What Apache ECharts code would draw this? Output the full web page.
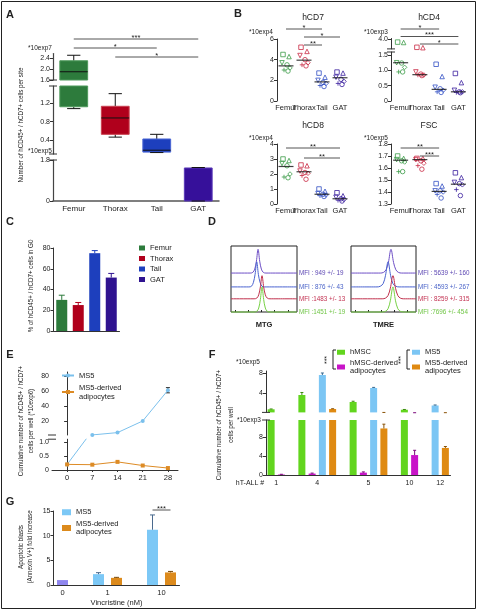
<!DOCTYPE html>
<html><head><meta charset="utf-8">
<script src="https://cdn.jsdelivr.net/npm/echarts@6/dist/echarts.min.js"></script>
<style>html,body{margin:0;padding:0;background:#fff;}#chart{width:477px;height:612px;}</style>
</head><body><div id="chart"></div>
<script>
// ================= DATA =================
// Panel A: box stats in units of 1e5 cells [min, q1, median, q3, max]
const A_categories = ['Femur', 'Thorax', 'Tail', 'GAT'];
const A_Femur = [108, 112, 190, 230, 250];
const A_Thorax = [47, 53, 88, 113, 140];
const A_Tail = [14, 15, 19, 43, 53];
const A_GAT = [0, 0, 0, 1.45, 1.47];
const A_ticksTop = [1.6, 2.0, 2.4];   // *10exp7
const A_ticksMid = [0.4, 0.8, 1.2];   // *10exp7
const A_ticksLow = [0, 1.8];          // *10exp5
const A_sig = [[0, 3, '***'], [0, 2, '*'], [1, 3, '*']];

// Panel B
const B_categories = ['Femur', 'Thorax', 'Tail', 'GAT'];
const hCD7_Femur = [4.5, 4.3, 3.7, 3.5, 3.2, 3.0, 2.9];
const hCD7_Thorax = [5.2, 4.8, 4.4, 4.0, 3.7, 3.5, 3.4];
const hCD7_Tail = [2.7, 2.3, 2.0, 1.8, 1.7, 1.5, 1.4];
const hCD7_GAT = [2.8, 2.7, 2.3, 2.1, 1.9, 1.7, 1.6];
const hCD7_medians = [3.4, 3.95, 1.85, 2.25];
const hCD7_sig = [[0, 2, '*'], [1, 3, '*'], [1, 2, '**']];
const hCD4_Femur = [3.3, 3.2, 1.25, 1.24, 1.1, 0.95, 0.95];
const hCD4_Thorax = [2.0, 1.9, 0.95, 0.88, 0.85, 0.85, 0.83];
const hCD4_Tail = [1.2, 0.8, 0.45, 0.4, 0.35, 0.3, 0.28];
const hCD4_GAT = [0.9, 0.6, 0.35, 0.3, 0.3, 0.28, 0.27];
const hCD4_medians = [1.25, 0.86, 0.38, 0.3];
const hCD4_sig = [[0, 2, '*'], [0, 3, '***'], [1, 3, '*']];
const hCD8_Femur = [3.0, 2.9, 2.7, 2.55, 2.0, 1.8, 1.75];
const hCD8_Thorax = [2.6, 2.55, 2.2, 2.1, 2.05, 1.9, 1.65];
const hCD8_Tail = [1.0, 0.85, 0.7, 0.65, 0.6, 0.55, 0.5];
const hCD8_GAT = [0.75, 0.55, 0.45, 0.35, 0.3, 0.25, 0.2];
const hCD8_medians = [2.5, 2.15, 0.65, 0.35];
const hCD8_sig = [[0, 3, '**'], [1, 3, '**']];
const FSC_Femur = [1.70, 1.68, 1.67, 1.66, 1.65, 1.57, 1.57];
const FSC_Thorax = [1.68, 1.68, 1.67, 1.66, 1.64, 1.62, 1.59];
const FSC_Tail = [1.47, 1.45, 1.41, 1.41, 1.40, 1.38, 1.35];
const FSC_GAT = [1.56, 1.52, 1.48, 1.47, 1.46, 1.42, 1.37];
const FSC_medians = [1.665, 1.67, 1.405, 1.465];
const FSC_sig = [[0, 2, '**'], [1, 2, '***']];

// Panel C
const C_categories = ['Femur', 'Thorax', 'Tail', 'GAT'];
const C_values = [30, 25, 75, 51.5];
const C_sem = [4.5, 2.5, 2.5, 4];
const C_ticks = [0, 20, 40, 60, 80];

// Panel D: histogram curves [x, count] (arbitrary units)
const MTG_purple = [[0,59],[29,59],[33,60],[36,65],[38.5,77],[41,95],[43.5,77],[46,65],[49,60],[53,59],[100,59]];
const MTG_blue = [[0,38],[27,38],[31,39],[34,45],[36.5,57],[39,76],[41.5,57],[44,45],[47,39],[51,38],[100,38]];
const MTG_red = [[0,20],[35,20],[39,21],[42,26],[44.5,38],[47,55],[49.5,38],[52,26],[55,21],[59,20],[100,20]];
const MTG_green = [[0,0],[35,0],[39,1],[42,6],[44.5,19],[47,38],[49.5,19],[52,6],[55,1],[59,0],[100,0]];
const TMRE_purple = [[0,59],[45,59],[50,60],[54,64],[57.5,75],[61.5,95],[65.5,75],[69,64],[73,60],[78,59],[100,59]];
const TMRE_blue = [[0,38],[40,38],[45,39],[49.5,43],[53,55],[57,76],[61,55],[64.5,43],[69,39],[74,38],[100,38]];
const TMRE_red = [[0,20],[48,20],[53,21],[57,25],[60.5,36],[64.5,55],[68.5,36],[72,25],[76,21],[81,20],[100,20]];
const TMRE_green = [[0,0],[48,0],[53,1],[57,5],[60.5,17],[64.5,38],[68.5,17],[72,5],[76,1],[81,0],[100,0]];
const MTG_labels = ['MFI : 949 +/- 19', 'MFI : 876 +/- 43', 'MFI :1483 +/- 13', 'MFI :1451 +/- 19'];
const TMRE_labels = ['MFI : 5639 +/- 160', 'MFI : 4593 +/- 267', 'MFI : 8259 +/- 315', 'MFI :7696 +/- 454'];

// Panel E (*10exp6)
const E_days = [0, 7, 14, 21, 28];
const E_MS5 = [0.2, 1.4, 4.5, 20, 61];
const E_MS5_sd = [0, 0, 0, 0, 3.5];
const E_adipo = [0.2, 0.19, 0.29, 0.16, 0.07];
const E_ticksUp = [20, 40, 60, 80];
const E_ticksLow = [0, 0.5, 1.0];

// Panel F (*10exp3 cells)
const F_patients = ['1', '4', '5', '10', '12'];
const F_hMSC = [74, 360, 220, 65, null];
const F_hMSC_sem = [6, 50, 15, 5, null];
const F_hMSCadipo = [0.1, 0.3, 0.5, 4.2, null];
const F_hMSCadipo_sem = [0.05, 0.1, 0.15, 1.0, null];
const F_MS5 = [null, 760, 500, null, 150];
const F_MS5_sem = [null, 40, 12, null, 10];
const F_MS5adipo = [null, 80, 9.8, null, 5.7];
const F_MS5adipo_sem = [null, 5, 0.9, null, 0.3];
const F_ticksUp = [4, 8];     // *10exp5
const F_ticksLow = [0, 4, 8]; // *10exp3

// Panel G
const G_doses = ['0', '1', '10'];
const G_control = [1.0, null, null];
const G_MS5 = [null, 2.2, 11.2];
const G_MS5_sem = [null, 0.3, 3.0];
const G_adipo = [null, 1.45, 2.55];
const G_adipo_sem = [null, 0.1, 0.2];
const G_ticks = [0, 5, 10, 15];

// ================= BUILD =================
const FONT = "'Liberation Sans', Arial, Helvetica, sans-serif";
const NARROW = "'Liberation Sans Narrow', 'Liberation Sans', Arial, sans-serif";
const INK = '#222';
const AXC = '#333';
const grids = [], xAxes = [], yAxes = [], series = [], graphics = [], legends = [];
const addGrid = g => (grids.push(Object.assign({containLabel: false, outerBoundsMode: 'none'}, g)), grids.length - 1);
const addX = a => (xAxes.push(a), xAxes.length - 1);
const addY = a => (yAxes.push(a), yAxes.length - 1);
const fmt1 = v => (v === 0 ? '0' : v.toFixed(1));
const fmt0 = v => String(v);

function valAxis(gi, min, max, ticks, fmt, extra) {
  return Object.assign({
    type: 'value', gridIndex: gi, min, max,
    axisLine: {show: true, lineStyle: {color: AXC, width: 1}},
    axisTick: {show: true, length: 3, customValues: ticks, lineStyle: {color: AXC, width: 1}},
    axisLabel: {show: true, customValues: ticks, fontSize: 7, margin: 3, color: INK, fontFamily: FONT, formatter: fmt || fmt0},
    splitLine: {show: false}
  }, extra || {});
}
function catAxis(gi, data, extra) {
  return Object.assign({
    type: 'category', gridIndex: gi, data, boundaryGap: true,
    axisLine: {show: true, lineStyle: {color: AXC, width: 1}},
    axisTick: {show: false},
    axisLabel: {show: true, interval: 0, fontSize: 8, margin: 4, color: INK, fontFamily: FONT},
    splitLine: {show: false}
  }, extra || {});
}
const hidVal = (gi, min, max, inverse) => ({type: 'value', gridIndex: gi, min, max, inverse: !!inverse, show: false});
const hidCat = (gi, data) => ({type: 'category', gridIndex: gi, data, boundaryGap: true, show: false});

function text(x, y, str, size, o) {
  o = o || {};
  graphics.push({type: 'text', x, y, rotation: o.rot || 0, scaleX: o.sx || 1, silent: true, z: 10,
    style: {text: str, fill: o.fill || INK, font: (o.weight || 'normal') + ' ' + size + 'px ' + (o.family || FONT),
      align: o.align || 'center', verticalAlign: 'middle'}});
}
const ROT = Math.PI / 2;
const NAR = {rot: ROT, family: NARROW, sx: 0.83};

// axis-break marks drawn at the edges of a segment's coordinate system
function addBreak(xi, yi, edges) {
  series.push({type: 'custom', xAxisIndex: xi, yAxisIndex: yi, silent: true, clip: false, z: 6, data: [[0, 0]],
    renderItem: (params) => {
      const cs = params.coordSys;
      return {type: 'group', children: edges.map(e => {
        const yy = e === 'top' ? cs.y : cs.y + cs.height;
        return {type: 'line', shape: {x1: cs.x - 4, y1: yy, x2: cs.x + 4, y2: yy}, style: {stroke: '#333', lineWidth: 1}};
      })};
    }});
}

function addSig(left, width, nCats, top, spacing, items, size) {
  const gi = addGrid({left, width, top, height: spacing * 2});
  const xi = addX(hidCat(gi, Array.from({length: nCats}, (_, i) => String(i))));
  const yi = addY(hidVal(gi, 0, 2, true));
  series.push({type: 'custom', xAxisIndex: xi, yAxisIndex: yi, silent: true, clip: false, z: 4,
    data: items.map((it, r) => [it[0], it[1], r]),
    renderItem: (params, api) => {
      const lab = items[params.dataIndex][2];
      const a = api.coord([api.value(0), api.value(2)]);
      const b = api.coord([api.value(1), api.value(2)]);
      return {type: 'group', children: [
        {type: 'line', shape: {x1: a[0], y1: a[1], x2: b[0], y2: b[1]}, style: {stroke: '#555', lineWidth: 1}},
        {type: 'text', style: {text: lab, x: (a[0] + b[0]) / 2, y: a[1] + 2.5, fill: INK, fontSize: size || 7.5, fontFamily: FONT, align: 'center', verticalAlign: 'bottom'}}
      ]};
    }});
}

function errSeries(xi, yi, data, color, capW, both) {
  return {type: 'custom', xAxisIndex: xi, yAxisIndex: yi, silent: true, clip: false, z: 3, data,
    renderItem: (params, api) => {
      const cs = params.coordSys;
      const x = api.value(0);
      const p0 = api.coord([x, api.value(1)]);
      const p1 = api.coord([x, api.value(2)]);
      if (!(p0[1] >= cs.y - 0.5 && p0[1] <= cs.y + cs.height + 0.5)) return null;
      const col = Array.isArray(color) ? color[params.dataIndex] : color;
      const st = {stroke: col, lineWidth: 1};
      const ch = [
        {type: 'line', shape: {x1: p0[0], y1: p0[1], x2: p1[0], y2: p1[1]}, style: st},
        {type: 'line', shape: {x1: p1[0] - capW / 2, y1: p1[1], x2: p1[0] + capW / 2, y2: p1[1]}, style: st}
      ];
      if (both) ch.push({type: 'line', shape: {x1: p0[0] - capW / 2, y1: p0[1], x2: p0[0] + capW / 2, y2: p0[1]}, style: st});
      return {type: 'group', children: ch};
    }};
}

function buildSlots(groups, arrays) {
  const slots = [], centers = [];
  groups.forEach((g, gi) => {
    if (gi > 0) slots.push(null);
    const start = slots.length;
    arrays.forEach((arr, si) => { if (arr[gi] != null) slots.push({g: gi, s: si}); });
    centers.push((start + slots.length) / 2);
  });
  return {slots, centers};
}
const labelFor = (centers, names, v) => { const i = centers.findIndex(c => Math.abs(c - v) < 1e-6); return i >= 0 ? names[i] : ''; };

// ---------- Panel A ----------
const A_boxes = [A_Femur, A_Thorax, A_Tail, A_GAT];
const A_colors = ['#2d7b3c', '#b0001c', '#1d3fbd', '#36109a'];
const A_edge = ['#4f9a5c', '#c9404f', '#4a66d4', '#5a3ab8'];
function renderBox(params, api) {
  const cs = params.coordSys, top = cs.y, bot = cs.y + cs.height;
  const ci = api.value(0);
  const y = [1, 2, 3, 4, 5].map(k => api.coord([ci, api.value(k)])[1]);
  const cx = api.coord([ci, api.value(1)])[0];
  const band = api.size([1, 0])[0];
  const bw = band * 0.67, cw = band * 0.32;
  const ch = [];
  const seg = (ya, yb, mk) => { let a = Math.min(ya, yb), b = Math.max(ya, yb); if (b < top - 0.01 || a > bot + 0.01) return; mk(Math.max(a, top), Math.min(b, bot)); };
  const vline = (a, b) => ch.push({type: 'line', shape: {x1: cx, y1: a, x2: cx, y2: b}, style: {stroke: '#111', lineWidth: 1}});
  seg(y[4], y[3], vline);
  seg(y[1], y[0], vline);
  seg(y[3], y[1], (a, b) => ch.push({type: 'rect', shape: {x: cx - bw / 2, y: a, width: bw, height: b - a}, style: {fill: A_colors[ci], stroke: A_edge[ci], lineWidth: 1}}));
  [y[0], y[4]].forEach(yy => { if (yy >= top - 0.01 && yy <= bot + 0.01) ch.push({type: 'line', shape: {x1: cx - cw / 2, y1: yy, x2: cx + cw / 2, y2: yy}, style: {stroke: '#111', lineWidth: 1}}); });
  if (y[2] >= top && y[2] <= bot && y[2] < y[1] - 0.5) ch.push({type: 'line', shape: {x1: cx - bw / 2, y1: y[2], x2: cx + bw / 2, y2: y[2]}, style: {stroke: '#111', lineWidth: 1}});
  return {type: 'group', children: ch};
}
const A_left = 53, A_width = 166;
const A_breaks = [['bottom'], ['top', 'bottom'], ['top']];
[[53.6, 26.4, 1.6, 2.56, A_ticksTop, 0.01], [86, 68, 0.109, 1.564, A_ticksMid, 0.01], [160, 41, 0, 1.8, A_ticksLow, 1]].forEach(([top, h, mn, mx, tk, f], k) => {
  const g = addGrid({left: A_left, width: A_width, top, height: h});
  const xi = addX(k === 2 ? catAxis(g, A_categories, {axisLine: {show: true, lineStyle: {color: '#555', width: 1.5}}}) : hidCat(g, A_categories));
  const yi = addY(valAxis(g, mn, mx, tk, fmt1, {axisLine: {show: true, lineStyle: {color: '#444', width: 1.2}}}));
  series.push({type: 'custom', xAxisIndex: xi, yAxisIndex: yi, silent: true, clip: false, renderItem: renderBox,
    data: A_boxes.map((b, i) => [i].concat(b.map(v => v * f)))});
  addBreak(xi, yi, A_breaks[k]);
});
addSig(A_left, A_width, 4, 39, 9, A_sig, 7.5);
text(10, 15, 'A', 11, {weight: 'bold'});
text(40, 48, '*10exp7', 6.5);
text(40, 151, '*10exp5', 6.5);
text(21, 125, 'Number of hCD45+ / hCD7+ cells per site', 7.5, NAR);

// ---------- Panel B ----------
const B_colors = ['#3c9c48', '#c92a45', '#3350c4', '#3b1f9f'];
const B_SHAPES = ['rect', 'triangle', 'path://M-1,-1L1,-1L0,1Z', 'circle', 'diamond', 'path://M0,-1L0,1M-1,0L1,0', 'circle'];
const B_JITTER = [-3, 3, -4, 1, 4, -2, 2];
function addDots(left, width, segs, groups, medians) {
  segs.forEach((s, k) => {
    const g = addGrid({left, width, top: s.top, height: s.height});
    const isBottom = k === segs.length - 1;
    const xi = addX(isBottom ? catAxis(g, B_categories, {axisLine: {show: false},
      axisLabel: {show: true, interval: 0, fontSize: 7.5, margin: 3, color: INK, fontFamily: FONT}}) : hidCat(g, B_categories));
    const yi = addY(valAxis(g, s.min, s.max, s.ticks, s.fmt));
    groups.forEach((vals, ci) => series.push({type: 'scatter', xAxisIndex: xi, yAxisIndex: yi, silent: true, clip: true, symbolSize: 4.5,
      data: vals.map((v, j) => ({value: [ci, v], symbol: B_SHAPES[j % B_SHAPES.length], symbolOffset: [B_JITTER[j % B_JITTER.length], 0]})),
      itemStyle: {color: 'rgba(255,255,255,0)', borderColor: B_colors[ci], borderWidth: 1}}));
    series.push({type: 'scatter', xAxisIndex: xi, yAxisIndex: yi, silent: true, clip: true, symbol: 'rect', symbolSize: [15, 1.2], z: 5,
      data: medians.map((m, ci) => [ci, m]), itemStyle: {color: '#111'}});
    if (s.breaks) addBreak(xi, yi, s.breaks);
  });
}
addDots(277, 72, [{top: 39, height: 62, min: 0, max: 6, ticks: [0, 2, 4, 6], fmt: fmt0}],
  [hCD7_Femur, hCD7_Thorax, hCD7_Tail, hCD7_GAT], hCD7_medians);
addDots(391, 77, [{top: 38.5, height: 10.4, min: 1.6, max: 4.2, ticks: [3, 4], fmt: v => v.toFixed(1), breaks: ['bottom']},
  {top: 52, height: 49, min: 0, max: 1.6, ticks: [0, 0.5, 1, 1.5], fmt: fmt1, breaks: ['top']}],
  [hCD4_Femur, hCD4_Thorax, hCD4_Tail, hCD4_GAT], hCD4_medians);
addDots(277, 72, [{top: 144, height: 60, min: 0, max: 4, ticks: [0, 1, 2, 3, 4], fmt: fmt0}],
  [hCD8_Femur, hCD8_Thorax, hCD8_Tail, hCD8_GAT], hCD8_medians);
addDots(391, 77, [{top: 144, height: 60, min: 1.3, max: 1.8, ticks: [1.3, 1.4, 1.5, 1.6, 1.7, 1.8], fmt: v => v.toFixed(1)}],
  [FSC_Femur, FSC_Thorax, FSC_Tail, FSC_GAT], FSC_medians);
addSig(277, 72, 4, 29, 8, hCD7_sig);
addSig(391, 77, 4, 29, 7.5, hCD4_sig);
addSig(277, 72, 4, 148, 10, hCD8_sig);
addSig(391, 77, 4, 148, 8, FSC_sig);
text(238, 14, 'B', 11, {weight: 'bold'});
text(313, 18, 'hCD7', 8.5); text(429, 18, 'hCD4', 8.5);
text(313, 126, 'hCD8', 8.5); text(429, 126, 'FSC', 8.5);
text(261, 32, '*10exp4', 6.5); text(376, 32, '*10exp3', 6.5);
text(261, 138, '*10exp4', 6.5); text(376, 138, '*10exp5', 6.5);

// ---------- Panel C ----------
const C_colors = ['#2d7b3c', '#b0001c', '#1d3fbd', '#2f1390'];
const gC = addGrid({left: 53.5, top: 248, width: 66, height: 83});
const xC = addX(catAxis(gC, C_categories, {axisLabel: {show: false}}));
const yC = addY(valAxis(gC, 0, 80, C_ticks, fmt0));
C_categories.forEach((c, i) => series.push({type: 'bar', name: c, xAxisIndex: xC, yAxisIndex: yC, barWidth: 11, barGap: '-100%', silent: true,
  data: C_values.map((v, j) => (j === i ? v : null)), itemStyle: {color: C_colors[i]}}));
series.push(errSeries(xC, yC, C_values.map((v, i) => [i, v, v + C_sem[i]]), C_colors, 6, false));
legends.push({left: 139, top: 244, orient: 'vertical', icon: 'rect', itemWidth: 6, itemHeight: 5, itemGap: 2.5, padding: 0, selectedMode: false,
  data: C_categories, textStyle: {fontSize: 7.5, color: INK, fontFamily: FONT}});
text(10, 222, 'C', 11, {weight: 'bold'});
text(31, 286, '% of hCD45+ / hCD7+ cells in G0', 7.5, NAR);

// ---------- Panel D ----------
const D_lineColors = ['#6e4fc6', '#4a63d0', '#c0304c', '#77d145'];
const D_textColors = ['#5d47b3', '#4a63c8', '#c23050', '#6fc545'];
function addHist(left, width, name, curves, labels) {
  const g = addGrid({left, top: 246, width, height: 66, show: true, borderColor: '#222', borderWidth: 1, backgroundColor: 'rgba(0,0,0,0)'});
  const xi = addX({type: 'value', gridIndex: g, min: 0, max: 100, axisLine: {show: false}, splitLine: {show: false},
    axisTick: {show: true, inside: true, length: 2, customValues: [6, 26, 46, 66, 86], lineStyle: {color: '#222'}}, axisLabel: {show: false},
    name, nameLocation: 'middle', nameGap: 9, nameTextStyle: {fontSize: 7.5, fontWeight: 'bold', fontFamily: NARROW, color: INK}});
  const yi = addY(hidVal(g, 0, 100));
  curves.forEach((c, k) => series.push({type: 'line', xAxisIndex: xi, yAxisIndex: yi, data: c, smooth: 0.35, symbol: 'none', silent: true, clip: false,
    lineStyle: {color: D_lineColors[k], width: 1},
    endLabel: {show: true, formatter: labels[k], color: D_textColors[k], fontSize: 6.3, fontFamily: FONT, distance: 2}}));
}
addHist(231, 66, 'MTG', [MTG_purple, MTG_blue, MTG_red, MTG_green], MTG_labels);
addHist(351, 65, 'TMRE', [TMRE_purple, TMRE_blue, TMRE_red, TMRE_green], TMRE_labels);
text(212, 222, 'D', 11, {weight: 'bold'});

// ---------- Panel E ----------
const E_UP_MIN = 1.3;
const gE1 = addGrid({left: 52, top: 372, width: 126, height: 63});
const gE2 = addGrid({left: 52, top: 439.2, width: 126, height: 30.8});
const xE1 = addX({type: 'value', gridIndex: gE1, min: -4.2, max: 30.8, show: false});
const yE1 = addY(valAxis(gE1, E_UP_MIN, 85.3, E_ticksUp, fmt0));
const xE2 = addX({type: 'value', gridIndex: gE2, min: -4.2, max: 30.8, splitLine: {show: false},
  axisLine: {show: true, lineStyle: {color: AXC, width: 1}},
  axisTick: {show: true, length: 2, customValues: E_days, lineStyle: {color: AXC}},
  axisLabel: {show: true, customValues: E_days, fontSize: 7.5, margin: 4, color: INK, fontFamily: FONT}});
const yE2 = addY(valAxis(gE2, 0, 1.1, E_ticksLow, fmt1));
addBreak(xE1, yE1, ['bottom']);
addBreak(xE2, yE2, ['top']);
[['MS5', E_MS5, '#7bc0ec', 'circle'], ['MS5-derived\nadipocytes', E_adipo, '#dd8b25', 'rect']].forEach(([name, vals, col, sym]) => {
  [[xE1, yE1, true], [xE2, yE2, false]].forEach(([xi, yi, isUp]) => {
    if (isUp && !vals.some(v => v >= E_UP_MIN)) return;
    series.push({type: 'line', name, xAxisIndex: xi, yAxisIndex: yi, silent: true, clip: true,
      data: E_days.map((d, k) => [d, isUp && vals[k] < E_UP_MIN ? null : vals[k]]), symbol: sym, symbolSize: 4, showSymbol: true, showAllSymbol: true,
      lineStyle: {color: col, width: 1}, itemStyle: {color: col}});
  });
});
series.push(errSeries(xE1, yE1, E_days.map((d, k) => [d, E_MS5[k] - E_MS5_sd[k], E_MS5[k] + E_MS5_sd[k]]).filter((r, k) => E_MS5_sd[k] > 0), '#333', 4, true));
legends.push({left: 61, top: 371, orient: 'vertical', itemWidth: 12, itemHeight: 5, itemGap: 3, padding: 0, selectedMode: false,
  data: ['MS5', 'MS5-derived\nadipocytes'], textStyle: {fontSize: 7.5, color: INK, fontFamily: FONT, lineHeight: 9}});
text(10, 355, 'E', 11, {weight: 'bold'});
text(21, 421, 'Cumulative number of hCD45+ / hCD7+', 7.5, NAR);
text(30.5, 421, 'cells per well (*10exp6)', 7.5, NAR);

// ---------- Panel F ----------
const F_arrays = [F_hMSC, F_hMSCadipo, F_MS5, F_MS5adipo];
const F_sems = [F_hMSC_sem, F_hMSCadipo_sem, F_MS5_sem, F_MS5adipo_sem];
const F_names = ['hMSC', 'hMSC-derived\nadipocytes', 'MS5 ', 'MS5-derived\nadipocytes '];
const F_colors = ['#62d51e', '#c814c8', '#7cc6f4', '#df8a12'];
const F_errColors = ['#3d8a10', '#7a087a', '#3a6a90', '#8a5206'];
const F_layout = buildSlots(F_patients, F_arrays);
const F_nSlots = F_layout.slots.length;
const F_slotCats = F_layout.slots.map((s, i) => String(i));
const F_LOWER_MAX = 11.58;
const gF1 = addGrid({left: 266, width: 184.5, top: 371, height: 41.4});
const gF2 = addGrid({left: 266, width: 184.5, top: 420, height: 55});
const gF3 = addGrid({left: 266, width: 184.5, top: 420, height: 55});
const xF1 = addX(hidCat(gF1, F_slotCats));
const yF1 = addY(valAxis(gF1, F_LOWER_MAX / 100, 8.4, F_ticksUp, fmt0));
const xF2 = addX(catAxis(gF2, F_slotCats, {axisLabel: {show: false}}));
const yF2 = addY(valAxis(gF2, 0, F_LOWER_MAX, F_ticksLow, fmt0));
addBreak(xF1, yF1, ['bottom']);
addBreak(xF2, yF2, ['top']);
addX({type: 'value', gridIndex: gF3, min: 0, max: F_nSlots, axisLine: {show: false}, axisTick: {show: false}, splitLine: {show: false},
  axisLabel: {show: true, customValues: F_layout.centers, formatter: v => labelFor(F_layout.centers, F_patients, v), fontSize: 7, margin: 5, color: INK, fontFamily: FONT}});
addY(hidVal(gF3, 0, 1));
F_arrays.forEach((arr, si) => {
  const slotData = F_layout.slots.map(s => (s && s.s === si ? arr[s.g] : null));
  [[xF1, yF1, 0.01], [xF2, yF2, 1]].forEach(([xi, yi, f]) => {
    series.push({type: 'bar', name: F_names[si], xAxisIndex: xi, yAxisIndex: yi, barWidth: 7, barGap: '-100%', silent: true, clip: true,
      data: slotData.map(v => (v == null ? null : v * f)), itemStyle: {color: F_colors[si]}});
    const errData = [];
    slotData.forEach((v, i) => { if (v != null) errData.push([i, v * f, (v + F_sems[si][F_layout.slots[i].g]) * f]); });
    series.push(errSeries(xi, yi, errData, F_errColors[si], 3, false));
  });
});
const legendText = {fontSize: 7.5, color: INK, fontFamily: FONT, lineHeight: 8.5};
legends.push({left: 337, top: 348, orient: 'vertical', icon: 'rect', itemWidth: 8, itemHeight: 5, itemGap: 2, padding: 0, selectedMode: false,
  data: [F_names[0], F_names[1]], formatter: n => n.trim(), textStyle: legendText});
legends.push({left: 412, top: 348, orient: 'vertical', icon: 'rect', itemWidth: 8, itemHeight: 5, itemGap: 2, padding: 0, selectedMode: false,
  data: [F_names[2], F_names[3]], formatter: n => n.trim(), textStyle: legendText});
text(327, 360, '***', 7, {rot: ROT});
text(401, 360, '***', 7, {rot: ROT});
graphics.push({type: 'polyline', silent: true, shape: {points: [[336, 350], [333, 350], [333, 369], [336, 369]]}, style: {stroke: INK, fill: null, lineWidth: 1}});
graphics.push({type: 'polyline', silent: true, shape: {points: [[410, 350], [407, 350], [407, 369], [410, 369]]}, style: {stroke: INK, fill: null, lineWidth: 1}});
text(212, 355, 'F', 11, {weight: 'bold'});
text(248, 362, '*10exp5', 6.5);
text(249, 420, '*10exp3', 6.5);
text(250, 483, 'hT-ALL #', 7);
text(219, 425, 'Cumulative number of hCD45+ / hCD7+', 7.5, NAR);
text(231, 425, 'cells per well', 7.5, NAR);

// ---------- Panel G ----------
const G_arrays = [G_control, G_MS5, G_adipo];
const G_sems = [[null, null, null], G_MS5_sem, G_adipo_sem];
const G_names = ['control', 'MS5  ', 'MS5-derived\nadipocytes  '];
const G_colors = ['#8f86ee', '#7cc8f6', '#dc8a1c'];
const G_errColors = ['#555', '#4a6a8e', '#7a4a08'];
const G_layout = buildSlots(G_doses, G_arrays);
const G_nSlots = G_layout.slots.length;
const G_slotCats = G_layout.slots.map((s, i) => String(i));
const gG = addGrid({left: 53.5, width: 126, top: 511, height: 74});
const gG2 = addGrid({left: 53.5, width: 126, top: 511, height: 74});
const xG = addX(catAxis(gG, G_slotCats, {axisLabel: {show: false}}));
const yG = addY(valAxis(gG, 0, 15, G_ticks, fmt0));
addX({type: 'value', gridIndex: gG2, min: 0, max: G_nSlots, axisLine: {show: false}, axisTick: {show: false}, splitLine: {show: false},
  axisLabel: {show: true, customValues: G_layout.centers, formatter: v => labelFor(G_layout.centers, G_doses, v), fontSize: 7.5, margin: 4, color: INK, fontFamily: FONT},
  name: 'Vincristine (nM)', nameLocation: 'middle', nameGap: 14, nameTextStyle: {fontSize: 7.5, fontFamily: NARROW, color: INK}});
addY(hidVal(gG2, 0, 1));
G_arrays.forEach((arr, si) => {
  const slotData = G_layout.slots.map(s => (s && s.s === si ? arr[s.g] : null));
  series.push({type: 'bar', name: G_names[si], xAxisIndex: xG, yAxisIndex: yG, barWidth: 11, barGap: '-100%', silent: true, clip: true,
    data: slotData, itemStyle: {color: G_colors[si]}});
  const errData = [];
  slotData.forEach((v, i) => { const e = G_sems[si][G_layout.slots[i] ? G_layout.slots[i].g : 0]; if (v != null && e != null) errData.push([i, v, v + e]); });
  series.push(errSeries(xG, yG, errData, G_errColors[si], 5, false));
});
const G_slotA = G_layout.slots.findIndex(s => s && s.g === 2 && s.s === 1);
const G_slotB = G_layout.slots.findIndex(s => s && s.g === 2 && s.s === 2);
addSig(53.5, 126, G_nSlots, 510, 8, [[G_slotA, G_slotB, '***']], 7.5);
legends.push({left: 62, top: 508, orient: 'vertical', icon: 'rect', itemWidth: 9, itemHeight: 6, itemGap: 3, padding: 0, selectedMode: false,
  data: [G_names[1], G_names[2]], formatter: n => n.trim(), textStyle: {fontSize: 7.5, color: INK, fontFamily: FONT, lineHeight: 8.5}});
text(10, 502, 'G', 11, {weight: 'bold'});
text(21, 547, 'Apoptotic blasts', 7.5, NAR);
text(30, 547, '(Annexin V+) fold increase', 7.5, NAR);

// frame
graphics.push({type: 'rect', silent: true, z: 0, shape: {x: 1.5, y: 1.5, width: 474, height: 607}, style: {fill: null, stroke: '#222', lineWidth: 1}});

const chart = echarts.init(document.getElementById('chart'), null, {renderer: 'canvas'});
chart.setOption({
  animation: false,
  backgroundColor: '#fff',
  textStyle: {fontFamily: FONT},
  grid: grids, xAxis: xAxes, yAxis: yAxes, series, legend: legends,
  graphic: {elements: graphics}
});
</script>
</body></html>
